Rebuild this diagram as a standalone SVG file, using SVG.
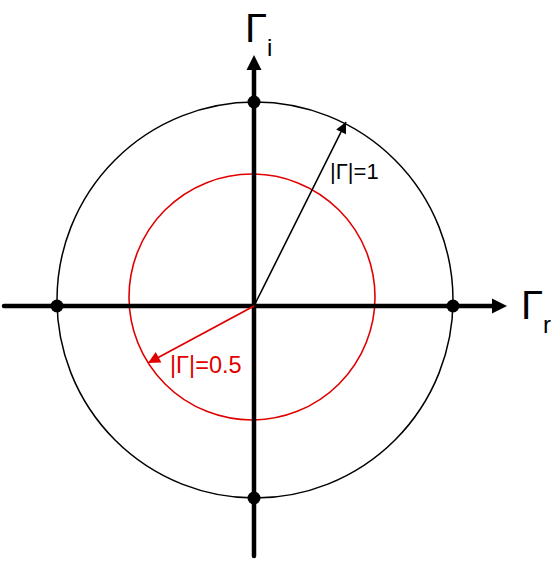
<svg xmlns="http://www.w3.org/2000/svg" width="553" height="561" viewBox="0 0 553 561">
<style>
.axis{stroke:#000;stroke-width:4.5;fill:none;stroke-linecap:round}
.lbl{font-family:"Liberation Sans",Arial,sans-serif}
</style>
<defs>
<marker id="ab" viewBox="0 0 10 10" refX="10" refY="5" markerWidth="15" markerHeight="11" markerUnits="userSpaceOnUse" orient="auto"><path d="M0,0 L10,5 L0,10 z" fill="#000"/></marker>
<marker id="ar" viewBox="0 0 10 10" refX="10" refY="5" markerWidth="16" markerHeight="12" markerUnits="userSpaceOnUse" orient="auto"><path d="M0,0 L10,5 L0,10 z" fill="#e00000"/></marker>
</defs>
<rect width="553" height="561" fill="#fff"/>
<g id="unit-circle"><circle cx="255" cy="300" r="198" fill="none" stroke="#000" stroke-width="1.5"/></g>
<g id="half-circle"><circle cx="252" cy="297" r="123" fill="none" stroke="#e00000" stroke-width="1.6"/></g>
<g id="connectors">
<line class="axis" x1="4" y1="306" x2="494" y2="306"/>
<path d="M492,298.5 L507,306 L492,313.5 z" fill="#000"/>
<line class="axis" x1="254" y1="556" x2="254" y2="70"/>
<path d="M246.5,70 L254,55 L261.5,70 z" fill="#000"/>
<line x1="254" y1="306" x2="346" y2="122" stroke="#000" stroke-width="1.6" marker-end="url(#ab)"/>
<line x1="254" y1="306" x2="148" y2="363" stroke="#e00000" stroke-width="1.8" marker-end="url(#ar)"/>
</g>
<g id="points" fill="#000">
<circle cx="57" cy="306" r="6.5"/>
<circle cx="453" cy="306" r="6.5"/>
<circle cx="254" cy="102" r="6.5"/>
<circle cx="254" cy="498" r="6.5"/>
</g>
<g id="label-gi"><text class="lbl" x="245" y="42" font-size="40">Γ</text><text class="lbl" x="267" y="56" font-size="24">i</text></g>
<g id="label-gr"><text class="lbl" x="521" y="319" font-size="40">Γ</text><text class="lbl" x="543" y="333" font-size="24">r</text></g>
<g id="label-1"><text class="lbl" x="330" y="179" font-size="22">|Γ|=1</text></g>
<g id="label-05"><text class="lbl" x="170" y="373" font-size="23.5" fill="#e00000">|Γ|=0.5</text></g>
</svg>
